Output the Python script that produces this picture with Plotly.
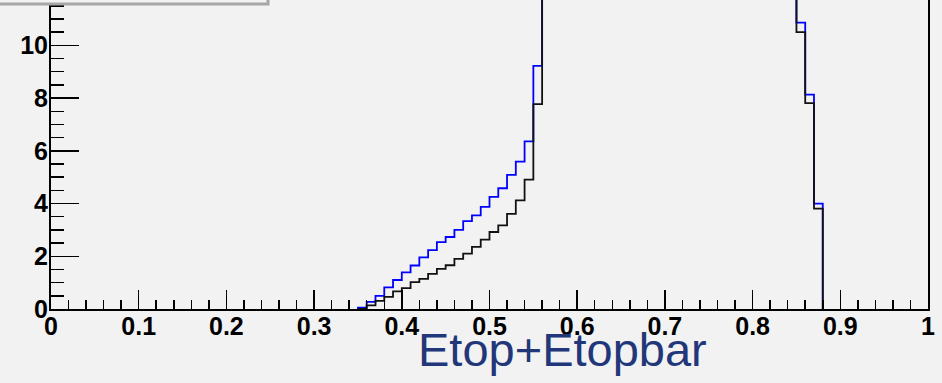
import numpy as np
import plotly.graph_objects as go

# Histogram binning (100 bins from 0 to 1); listed values start at bin [0.35, 0.36)
first_bin = 0.35
bin_width = 0.01

# Blue histogram (bins 0.35 .. 0.87)
blue_values = [
    0.05, 0.27, 0.50, 0.82, 1.10, 1.39, 1.65, 1.96, 2.23, 2.54,
    2.73, 3.00, 3.33, 3.55, 3.87, 4.25, 4.58, 5.09, 5.59, 6.36,
    9.22,
    15.0, 18.6, 21.4, 24.1, 26.5, 28.7, 30.6, 32.1, 33.5, 34.6,
    35.4, 35.9, 36.2, 36.0, 35.5, 34.7, 33.7, 32.3, 30.8, 29.0,
    27.0, 24.9, 22.6, 20.2, 17.9, 15.8, 14.0, 12.6, 11.9,
    10.86, 8.13, 4.00,
]

# Black histogram (bins 0.35 .. 0.87)
black_values = [
    0.00, 0.14, 0.31, 0.46, 0.67, 0.79, 1.02, 1.14, 1.33, 1.52,
    1.66, 1.90, 2.10, 2.36, 2.63, 2.92, 3.17, 3.61, 4.12, 4.91,
    7.77,
    14.2, 17.5, 20.1, 22.8, 25.0, 27.3, 29.1, 30.8, 32.0, 33.4,
    34.1, 34.9, 35.2, 35.6, 35.3, 34.8, 34.0, 33.1, 31.7, 30.2,
    28.4, 26.5, 24.3, 22.0, 19.6, 17.2, 15.1, 13.4, 12.3,
    10.50, 7.81, 3.81,
]

x_tick_vals = [0, 0.1, 0.2, 0.3, 0.4, 0.5, 0.6, 0.7, 0.8, 0.9, 1]
x_tick_text = ["0", "0.1", "0.2", "0.3", "0.4", "0.5", "0.6", "0.7", "0.8", "0.9", "1"]
y_tick_vals = [0, 2, 4, 6, 8, 10]
y_tick_text = ["0", "2", "4", "6", "8", "10"]
x_title = "Etop+Etopbar"


def step_xy(values):
    n = len(values)
    edges = first_bin + bin_width * np.arange(n + 1)
    xs = np.concatenate([[edges[0]], edges])
    ys = np.concatenate([[0.0], values, [0.0]])
    return list(xs), list(ys)


bx, by = step_xy(blue_values)
kx, ky = step_xy(black_values)

BG = "#f2f2f2"

fig = go.Figure()
fig.add_trace(go.Scatter(x=bx, y=by, mode="lines", line=dict(color="#0000ff", width=1.8, shape="hv"),
                         showlegend=False, hoverinfo="skip"))
fig.add_trace(go.Scatter(x=kx, y=ky, mode="lines", line=dict(color="#111111", width=1.8, shape="hv"),
                         showlegend=False, hoverinfo="skip"))

W, H = 942, 383
ml, mr, mt, mb = 51, 14, 0, 73.5
plot_h = H - mt - mb
plot_w = W - ml - mr
y_top = 11.72

tickfont = dict(family="Liberation Sans, Arial, sans-serif", size=25, color="#000000", weight="bold")

fig.update_layout(
    width=W, height=H,
    margin=dict(l=ml, r=mr, t=mt, b=mb, pad=0),
    paper_bgcolor=BG, plot_bgcolor=BG,
    xaxis=dict(
        range=[0, 1], showgrid=False, zeroline=False,
        showline=True, linecolor="#000000", linewidth=2, mirror=False,
        ticks="inside", ticklen=19, tickwidth=1.5, tickcolor="#000000",
        tickvals=x_tick_vals, ticktext=x_tick_text, tickfont=tickfont,
        ticklabelstandoff=-6, automargin=False,
        minor=dict(dtick=0.02, ticks="inside", ticklen=9, tickwidth=1.5, tickcolor="#000000", showgrid=False),
    ),
    yaxis=dict(
        range=[0, y_top], showgrid=False, zeroline=False,
        showline=True, linecolor="#000000", linewidth=2, mirror=True,
        ticks="inside", ticklen=28, tickwidth=1.5, tickcolor="#000000",
        tickvals=y_tick_vals, ticktext=y_tick_text, tickfont=tickfont,
        ticklabelstandoff=-4, automargin=False,
        minor=dict(dtick=0.5, ticks="inside", ticklen=13, tickwidth=1.5, tickcolor="#000000", showgrid=False),
    ),
    shapes=[
        dict(type="rect", xref="paper", yref="paper",
             x0=(-5 - ml) / plot_w, x1=(268 - ml) / plot_w,
             y0=(plot_h - 4) / plot_h, y1=1.2,
             line=dict(color="#a6a6a6", width=3), fillcolor=BG, layer="above"),
    ],
    annotations=[
        dict(text=x_title, xref="paper", yref="paper",
             x=(562 - ml) / plot_w, y=(plot_h - 350) / plot_h,
             xanchor="center", yanchor="middle", showarrow=False,
             font=dict(family="Liberation Sans, Arial, sans-serif", size=47, color="#22377a")),
    ],
)

fig.write_html("out.html", config={"displayModeBar": False, "staticPlot": True},
               post_script="document.body.style.margin='0';document.body.style.background='%s';" % BG)
